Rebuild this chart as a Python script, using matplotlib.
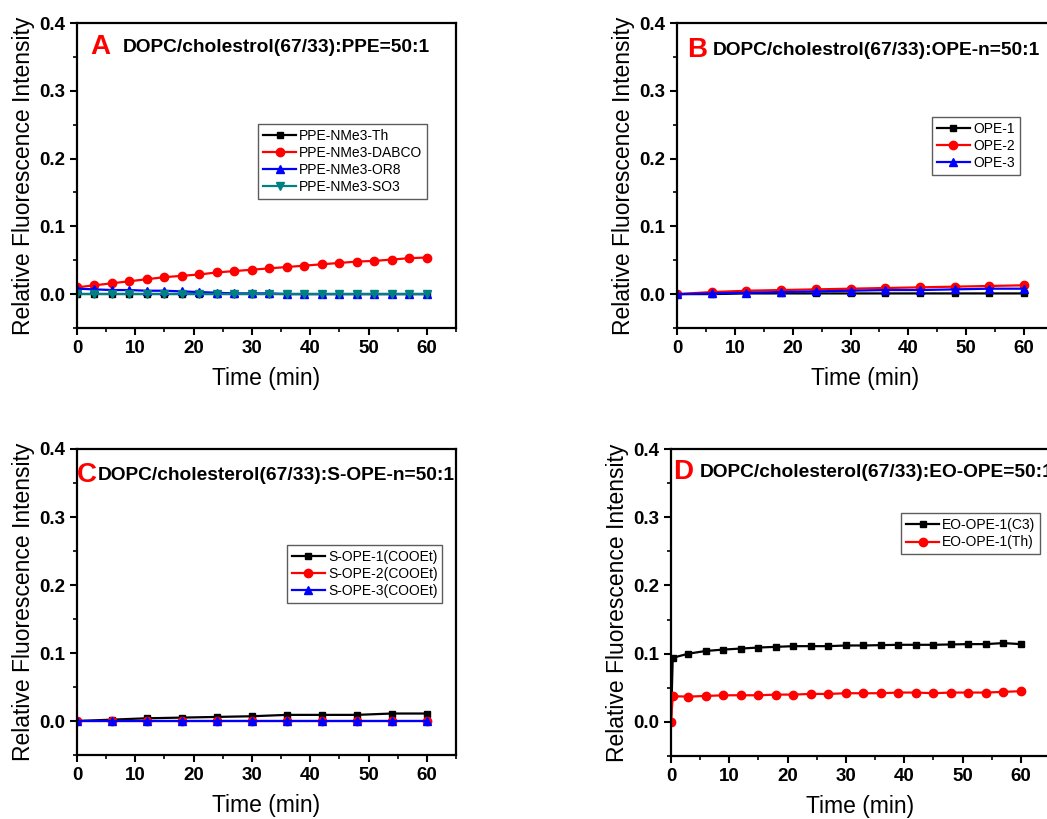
import matplotlib
matplotlib.use("Agg")
from matplotlib import pyplot as plt
from matplotlib.ticker import MultipleLocator

plt.rcParams['font.family'] = ['Liberation Sans', 'DejaVu Sans']

# panel A: PPE series, every 3 min
t_a = list(range(0, 61, 3))
ppe_th = [0.0] * 21
ppe_dabco = [0.010, 0.013, 0.016, 0.019, 0.022, 0.025, 0.027, 0.029, 0.032, 0.034, 0.036,
             0.038, 0.040, 0.042, 0.044, 0.046, 0.048, 0.049, 0.051, 0.053, 0.054]
ppe_or8 = [0.008, 0.007, 0.006, 0.006, 0.005, 0.005, 0.004, 0.003, 0.002, 0.001, 0.001,
           0.001, 0.0, 0.0, 0.0, 0.0, 0.0, 0.0, 0.0, 0.0, 0.0]
ppe_so3 = [0.0] * 21

# panel B: OPE series, every 6 min
t_b = list(range(0, 61, 6))
ope_1 = [0.0, 0.0, 0.001, 0.001, 0.001, 0.001, 0.001, 0.001, 0.001, 0.001, 0.001]
ope_2 = [0.0, 0.003, 0.005, 0.006, 0.007, 0.008, 0.009, 0.010, 0.011, 0.012, 0.013]
ope_3 = [0.0, 0.001, 0.002, 0.003, 0.004, 0.005, 0.006, 0.006, 0.007, 0.008, 0.008]

# panel C: S-OPE series
t_c = list(range(0, 61, 6))
sope_1 = [0.0, 0.002, 0.004, 0.005, 0.006, 0.007, 0.009, 0.009, 0.009, 0.011, 0.011]
sope_2 = [0.0] * 11
sope_3 = [0.0] * 11

# panel D: EO-OPE series
t_d = [0, 0.3] + list(range(3, 61, 3))
eo_c3 = [0.0, 0.094, 0.100, 0.104, 0.106, 0.1075, 0.109, 0.110, 0.111, 0.111, 0.111, 0.112,
         0.112, 0.1125, 0.113, 0.113, 0.113, 0.1135, 0.114, 0.114, 0.1155, 0.114]
eo_th = [0.0, 0.0376, 0.0371, 0.038, 0.039, 0.039, 0.039, 0.040, 0.040, 0.041, 0.041, 0.042,
         0.042, 0.042, 0.043, 0.043, 0.042, 0.043, 0.043, 0.043, 0.044, 0.045]

W, H = 1047, 819
fig = plt.figure(figsize=(W / 100, H / 100), dpi=100)


def make_ax(left, bottom, width, height):
    ax = fig.add_axes([left / W, 1 - bottom / H, width / W, height / H])
    ax.set_xlim(0, 65)
    ax.set_ylim(-0.05, 0.4)
    ax.xaxis.set_major_locator(MultipleLocator(10))
    ax.xaxis.set_minor_locator(MultipleLocator(5))
    ax.yaxis.set_major_locator(MultipleLocator(0.1))
    ax.yaxis.set_minor_locator(MultipleLocator(0.05))
    ax.tick_params(which='major', direction='out', length=5, width=1.5, labelsize=13.5)
    ax.tick_params(which='minor', direction='out', length=3, width=1.2)
    for lab in ax.get_xticklabels() + ax.get_yticklabels():
        lab.set_fontweight('bold')
    for sp in ax.spines.values():
        sp.set_linewidth(1.6)
    ax.set_xlabel('Time (min)', fontsize=16.5, labelpad=7)
    ax.set_ylabel('Relative Fluorescence Intensity', fontsize=16.5, labelpad=3)
    return ax


def panel_title(ax, letter, text, lx, tx, y):
    ax.text(lx, y, letter, transform=ax.transAxes, color='red', fontsize=20,
            fontweight='bold', va='center', ha='left', clip_on=False)
    ax.text(tx, y, text, transform=ax.transAxes, color='black', fontsize=13.8,
            fontweight='bold', va='center', ha='left', clip_on=False)


def add_legend(ax, x, y):
    leg = ax.legend(loc='upper left', bbox_to_anchor=(x, y), fontsize=10, frameon=True,
                    fancybox=False, edgecolor='#333333', handlelength=2.4,
                    handletextpad=0.2, borderpad=0.35, labelspacing=0.22, borderaxespad=0)
    leg.get_frame().set_linewidth(1.0)


lw = 1.6
ms = 5

ax = make_ax(77, 328, 379, 305)
ax.plot(t_a, ppe_th, color='black', marker='s', lw=lw, ms=ms, label='PPE-NMe3-Th')
ax.plot(t_a, ppe_dabco, color='red', marker='o', lw=lw, ms=ms + 1, label='PPE-NMe3-DABCO')
ax.plot(t_a, ppe_or8, color='blue', marker='^', lw=lw, ms=ms + 1, label='PPE-NMe3-OR8')
ax.plot(t_a, ppe_so3, color='#008080', marker='v', lw=lw, ms=ms + 1, label='PPE-NMe3-SO3')
add_legend(ax, 0.478, 0.669)
panel_title(ax, 'A', 'DOPC/cholestrol(67/33):PPE=50:1', 0.034, 0.121, 0.921)

ax = make_ax(677, 328, 376, 305)
ax.plot(t_b, ope_1, color='black', marker='s', lw=lw, ms=ms, label='OPE-1')
ax.plot(t_b, ope_2, color='red', marker='o', lw=lw, ms=ms + 1, label='OPE-2')
ax.plot(t_b, ope_3, color='blue', marker='^', lw=lw, ms=ms + 1, label='OPE-3')
add_legend(ax, 0.678, 0.692)
panel_title(ax, 'B', 'DOPC/cholestrol(67/33):OPE-n=50:1', 0.027, 0.096, 0.911)

ax = make_ax(77, 755, 379, 306)
ax.plot(t_c, sope_1, color='black', marker='s', lw=lw, ms=ms, label='S-OPE-1(COOEt)')
ax.plot(t_c, sope_2, color='red', marker='o', lw=lw, ms=ms + 1, label='S-OPE-2(COOEt)')
ax.plot(t_c, sope_3, color='blue', marker='^', lw=lw, ms=ms + 1, label='S-OPE-3(COOEt)')
add_legend(ax, 0.554, 0.686)
panel_title(ax, 'C', 'DOPC/cholesterol(67/33):S-OPE-n=50:1', 0.0, 0.055, 0.915)

ax = make_ax(671, 756, 379, 307)
ax.plot(t_d, eo_c3, color='black', marker='s', lw=lw, ms=ms, label='EO-OPE-1(C3)')
ax.plot(t_d, eo_th, color='red', marker='o', lw=lw, ms=ms + 1, label='EO-OPE-1(Th)')
add_legend(ax, 0.607, 0.79)
panel_title(ax, 'D', 'DOPC/cholesterol(67/33):EO-OPE=50:1', 0.005, 0.077, 0.925)

fig.savefig('out.png', dpi=100)
